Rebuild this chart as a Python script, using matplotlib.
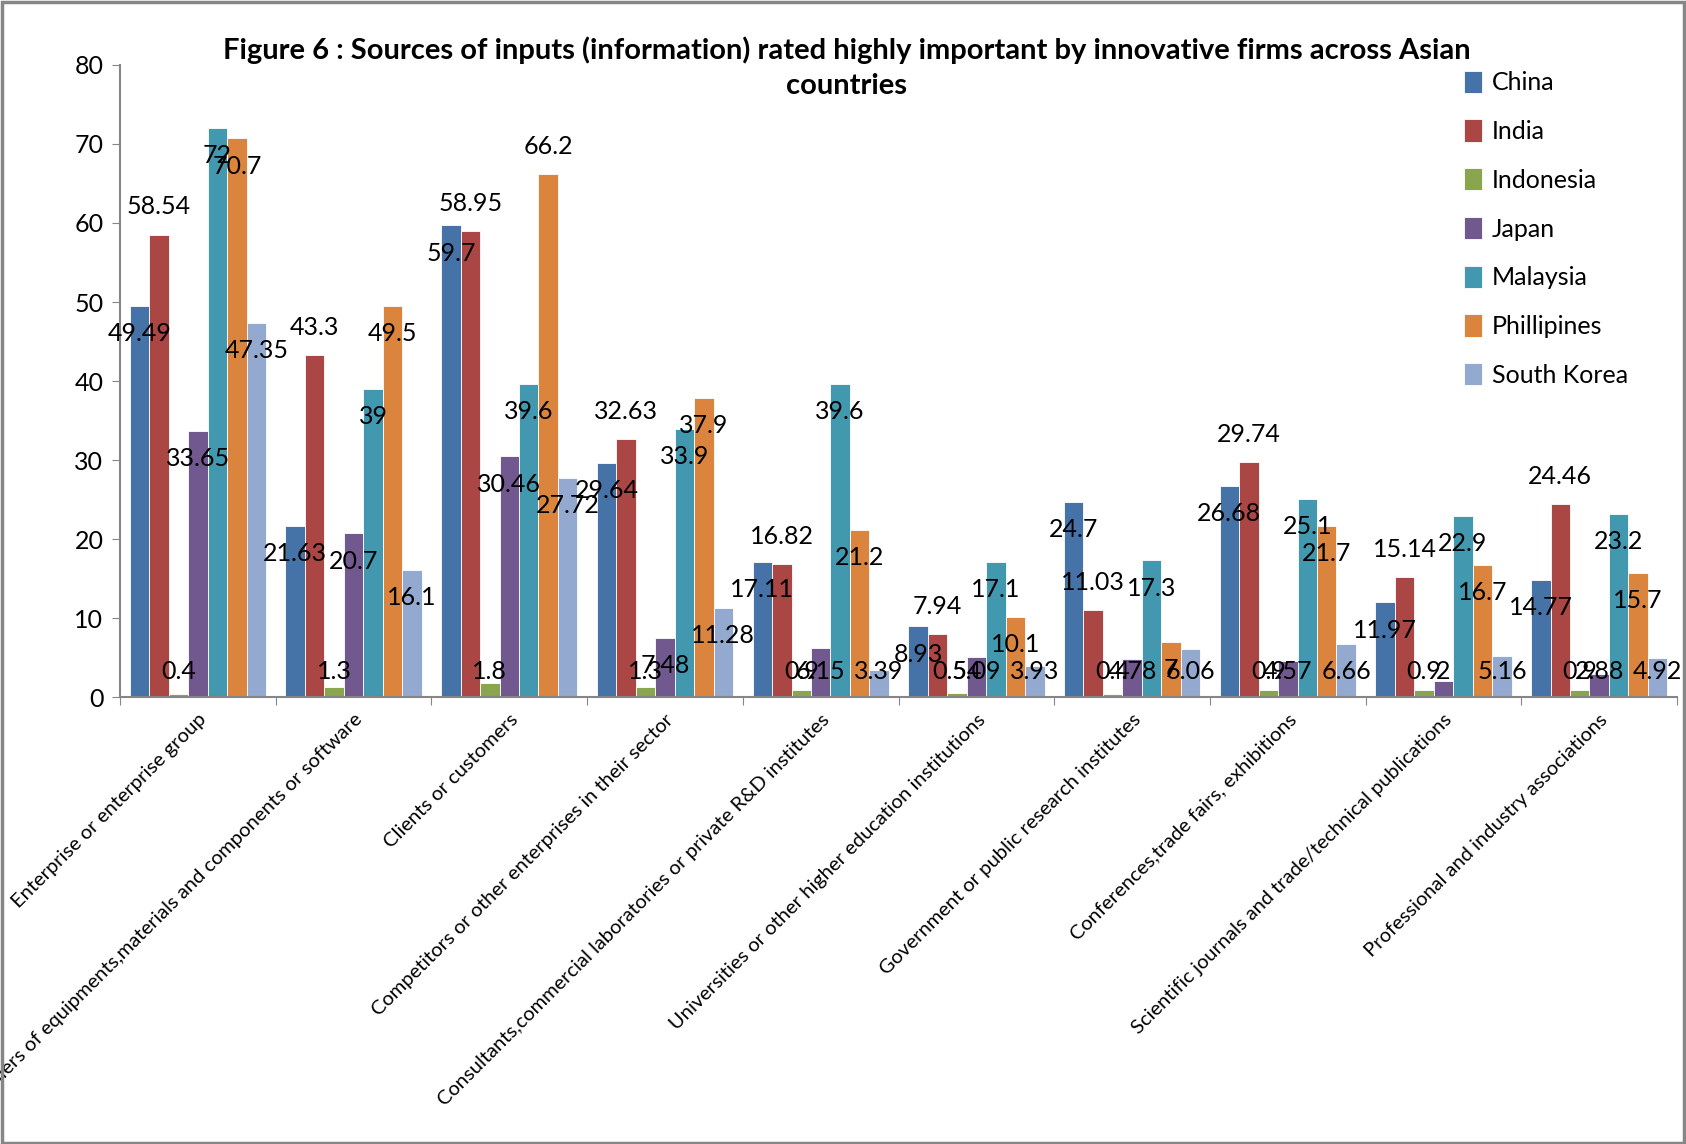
import numpy as np
import matplotlib
matplotlib.use("Agg")
import matplotlib.pyplot as plt
from matplotlib.patches import Rectangle

plt.rcParams['font.family'] = ['Lato', 'DejaVu Sans']

categories = [
    "Enterprise or enterprise group",
    "Suppliers of equipments,materials and components or software",
    "Clients or customers",
    "Competitors or other enterprises in their sector",
    "Consultants,commercial laboratories or private R&D institutes",
    "Universities or other higher education institutions",
    "Government or public research institutes",
    "Conferences,trade fairs, exhibitions",
    "Scientific journals and trade/technical publications",
    "Professional and industry associations",
]

countries = ["China", "India", "Indonesia", "Japan", "Malaysia", "Phillipines", "South Korea"]

china = [49.49, 21.63, 59.7, 29.64, 17.11, 8.93, 24.7, 26.68, 11.97, 14.77]
india = [58.54, 43.3, 58.95, 32.63, 16.82, 7.94, 11.03, 29.74, 15.14, 24.46]
indonesia = [0.4, 1.3, 1.8, 1.3, 0.9, 0.54, 0.4, 0.9, 0.9, 0.9]
japan = [33.65, 20.7, 30.46, 7.48, 6.15, 5.09, 4.78, 4.57, 2, 2.88]
malaysia = [72, 39, 39.6, 33.9, 39.6, 17.1, 17.3, 25.1, 22.9, 23.2]
phillipines = [70.7, 49.5, 66.2, 37.9, 21.2, 10.1, 7, 21.7, 16.7, 15.7]
south_korea = [47.35, 16.1, 27.72, 11.28, 3.39, 3.93, 6.06, 6.66, 5.16, 4.92]

series = [china, india, indonesia, japan, malaysia, phillipines, south_korea]
colors = ["#4572A7", "#AA4643", "#89A54E", "#71588F", "#4198AF", "#DB843D", "#93A9CF"]

# which value labels sit above the bar instead of just inside its top
above = np.zeros((7, 10), dtype=bool)
above[1, :] = True
above[5, 2] = True

fig = plt.figure(figsize=(16.86, 11.44), dpi=100)
ax = fig.add_axes([0.0712, 0.3907, 0.9235, 0.5525])

x = np.arange(len(categories))
w = 0.125
for i, (vals, name, col) in enumerate(zip(series, countries, colors)):
    pos = x + (i - 3) * w
    ax.bar(pos, vals, width=w, color=col, edgecolor='white', linewidth=0.6, label=name, zorder=2)
    for j, v in enumerate(vals):
        if above[i, j]:
            ly = v + 3.5
        else:
            ly = max(v - 3.5, 3.2)
        ax.text(pos[j], ly, f"{v:g}", ha='center', va='center', fontsize=18, color='black', zorder=3)

ax.set_xlim(-0.5, len(categories) - 0.5)
ax.set_ylim(0, 80)
ax.set_yticks(np.arange(0, 81, 10))
ax.tick_params(axis='y', labelsize=18, length=6, color='#868686', pad=6)

ax.set_xticks(np.arange(-0.5, len(categories), 1.0))
ax.set_xticklabels([])
ax.tick_params(axis='x', which='major', length=6, color='#868686')
ax.set_xticks(x, minor=True)
ax.set_xticklabels(categories, minor=True, rotation=45, ha='right', rotation_mode='anchor', fontsize=14.5)
ax.tick_params(axis='x', which='minor', length=0, pad=10)

for s in ['top', 'right']:
    ax.spines[s].set_visible(False)
for s in ['left', 'bottom']:
    ax.spines[s].set_color('#868686')
    ax.spines[s].set_linewidth(1.5)

fig.text(0.502, 0.968, "Figure 6 : Sources of inputs (information) rated highly important by innovative firms across Asian\ncountries",
         ha='center', va='top', fontsize=21, fontweight='bold', linespacing=1.4)

fig.legend(loc='upper left', bbox_to_anchor=(0.855, 0.958), frameon=False, fontsize=18,
           handlelength=0.7, handleheight=1.0, handletextpad=0.4, labelspacing=1.0)

fig.add_artist(Rectangle((0.001, 0.001), 0.998, 0.997, transform=fig.transFigure,
                         fill=False, edgecolor='#868686', linewidth=2.5))

fig.savefig("out.png", dpi=100)
